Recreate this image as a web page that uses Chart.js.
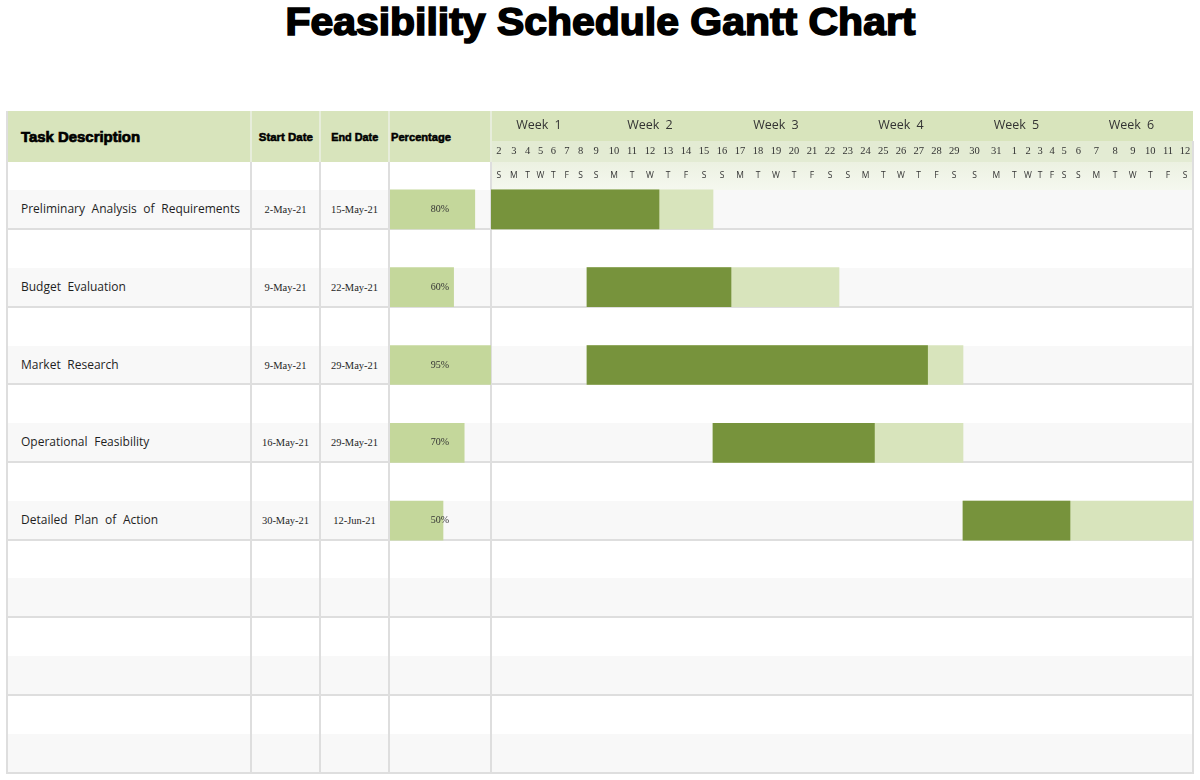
<!DOCTYPE html>
<html>
<head>
<meta charset="utf-8">
<title>Feasibility Schedule Gantt Chart</title>
<script src="https://cdn.jsdelivr.net/npm/chart.js@4.4.1/dist/chart.umd.min.js"></script>
<style>
  html, body { margin:0; padding:0; background:#fff; }
  body { width:1200px; height:780px; position:relative; overflow:hidden;
         font-family:"Open Sans","Noto Sans",sans-serif; color:#262626; }
  .rect { position:absolute; box-sizing:border-box; }
  .heavy { font-family:"Liberation Sans",Arial,sans-serif; font-weight:700; color:#000;
           white-space:nowrap; display:inline-block; }
  .cell { position:absolute; display:flex; align-items:center; white-space:nowrap; box-sizing:border-box; }
  .wrap { position:absolute; }
  #title { position:absolute; left:0; top:-2px; width:1200px; text-align:center;
           line-height:44px; font-size:38px; }
  #title span { -webkit-text-stroke:1.6px #000; transform-origin:50% 50%; }
</style>
</head>
<body>
<div id="title"><span class="heavy" id="titleText">Feasibility Schedule Gantt Chart</span></div>
<div id="table"></div>
<div class="wrap" id="pctWrap"><canvas id="pctChart"></canvas></div>
<div class="wrap" id="ganttWrap"><canvas id="ganttChart"></canvas></div>
<script>
// ================= DATA =================
const tasks = [
  'Preliminary Analysis of Requirements',
  'Budget Evaluation',
  'Market Research',
  'Operational Feasibility',
  'Detailed Plan of Action'
];
const startDates = ['2-May-21', '9-May-21', '9-May-21', '16-May-21', '30-May-21'];
const endDates   = ['15-May-21', '22-May-21', '29-May-21', '29-May-21', '12-Jun-21'];
const percentComplete = [80, 60, 95, 70, 50];
const timelineStart = '2-May-21';
const weekLabels = ['Week 1', 'Week 2', 'Week 3', 'Week 4', 'Week 5', 'Week 6'];
const dayNumbers = ['2','3','4','5','6','7','8','9','10','11','12','13','14','15','16','17','18','19','20','21','22',
                    '23','24','25','26','27','28','29','30','31','1','2','3','4','5','6','7','8','9','10','11','12'];
const dayLetters = ['S','M','T','W','T','F','S','S','M','T','W','T','F','S','S','M','T','W','T','F','S',
                    'S','M','T','W','T','F','S','S','M','T','W','T','F','S','S','M','T','W','T','F','S'];
const headerLabels = ['Task Description', 'Start Date', 'End Date', 'Percentage'];

// ================= LAYOUT (positions / sizes / styles) =================
const COLS = [7, 251, 320, 389, 491, 1193];
const TABLE_TOP = 111, HEAD_BOTTOM = 162, TABLE_BOTTOM = 773;
const WEEK_ROW_BOTTOM = 141, LETTER_ROW_BOTTOM = 190;
const GROUP_LINES = [229, 307, 384, 462, 540, 617, 695, 773];
const STRIPE_TOPS = [190, 268, 346, 423, 501, 578, 656, 734];
const BAR_AREA_TOP = 170.5, BAR_AREA_BOTTOM = 559.5;
// spreadsheet day-column widths (pixels), one per day of the timeline
const DAY_COL_WIDTHS = [15.5,14.5,13,13,12.5,14.5,13,
  18,18,18,18,18,18,18,
  18,18,18,18,18,18,18,
  17.714,17.714,17.714,17.714,17.714,17.714,17.716,
  23,20.5,15.5,12,12,12,12,
  16.5,19.5,18,17.5,17.5,18,16];
const PCT_LEFT = 390, PCT_WIDTH = 106;
const HEADER_TEXT_Y = { week: 125, day: 151, letter: 176 };
const C = {
  header: '#d8e4bc', dayRow: '#e3ebd3', letterTop: '#ecf1e1', letterBottom: '#f5f8ef',
  stripe: '#f8f8f8', line: '#dedede', headLine: '#e7eddb',
  done: '#77933c', remain: '#d8e4bc', pct: '#c4d79b', text: '#262626'
};

// ================= helpers =================
const MONTHS = {Jan:0,Feb:1,Mar:2,Apr:3,May:4,Jun:5,Jul:6,Aug:7,Sep:8,Oct:9,Nov:10,Dec:11};
function dayNum(s) { const p = s.split('-'); return Date.UTC(2000 + Number(p[2]), MONTHS[p[1]], Number(p[0])) / 86400000; }
const t0 = dayNum(timelineStart);
const startIdx = startDates.map(s => dayNum(s) - t0);
const endIdx = endDates.map(s => dayNum(s) - t0 + 1);
const doneIdx = startIdx.map((s, i) => s + Math.floor(percentComplete[i] / 100 * (endIdx[i] - s) + 1e-9));

// ================= table (HTML) =================
const table = document.getElementById('table');
function rect(x, y, w, h, bg) {
  const d = document.createElement('div');
  d.className = 'rect';
  d.style.cssText = `left:${x}px;top:${y}px;width:${w}px;height:${h}px;background:${bg};`;
  table.appendChild(d); return d;
}
function cell(x, y, w, h, text, css) {
  const d = document.createElement('div');
  d.className = 'cell';
  d.style.cssText = `left:${x}px;top:${y}px;width:${w}px;height:${h}px;` + (css || '');
  const s = document.createElement('span');
  s.textContent = text;
  d.appendChild(s);
  table.appendChild(d); return s;
}
const W = COLS[5] - COLS[0];
// header backgrounds
rect(COLS[0], TABLE_TOP, COLS[4] - COLS[0], HEAD_BOTTOM - TABLE_TOP, C.header);
rect(COLS[4], TABLE_TOP, COLS[5] - COLS[4], WEEK_ROW_BOTTOM - TABLE_TOP, C.header);
rect(COLS[4], WEEK_ROW_BOTTOM, COLS[5] - COLS[4], HEAD_BOTTOM - WEEK_ROW_BOTTOM, C.dayRow);
rect(COLS[4], HEAD_BOTTOM, COLS[5] - COLS[4], LETTER_ROW_BOTTOM - HEAD_BOTTOM,
     `linear-gradient(${C.letterTop}, ${C.letterBottom})`);
// stripes
STRIPE_TOPS.forEach((t, i) => rect(COLS[0], t, W, GROUP_LINES[i] - t, C.stripe));
// horizontal lines
GROUP_LINES.forEach(y => rect(COLS[0], y - 1, W + 1, 2, C.line));
// vertical lines
COLS.forEach((x, i) => {
  if (i === 0) rect(x - 1, TABLE_TOP, 2, TABLE_BOTTOM - TABLE_TOP + 1, C.line);
  else if (i === 5) rect(x - 1, WEEK_ROW_BOTTOM, 2, TABLE_BOTTOM - WEEK_ROW_BOTTOM + 1, C.line);
  else {
    rect(x - 1, TABLE_TOP, 2, HEAD_BOTTOM - TABLE_TOP, C.headLine);
    rect(x - 1, HEAD_BOTTOM, 2, TABLE_BOTTOM - HEAD_BOTTOM + 1, C.line);
  }
});
// header text
const hTask = cell(21, TABLE_TOP, 200, HEAD_BOTTOM - TABLE_TOP, headerLabels[0]);
hTask.className = 'heavy'; hTask.style.cssText = 'font-size:14px;-webkit-text-stroke:0.7px #000;transform-origin:0 50%;';
const hStart = cell(COLS[1], TABLE_TOP, COLS[2] - COLS[1], HEAD_BOTTOM - TABLE_TOP, headerLabels[1], 'justify-content:center;');
const hEnd = cell(COLS[2], TABLE_TOP, COLS[3] - COLS[2], HEAD_BOTTOM - TABLE_TOP, headerLabels[2], 'justify-content:center;');
const hPct = cell(391, TABLE_TOP, 90, HEAD_BOTTOM - TABLE_TOP, headerLabels[3]);
[hStart, hEnd, hPct].forEach(s => { s.className = 'heavy'; s.style.cssText = 'font-size:10.5px;-webkit-text-stroke:0.5px #000;'; });
hPct.style.transformOrigin = '0 50%';
function fit(el, target) {
  const w = el.getBoundingClientRect().width;
  if (w > 0) el.style.transform = `scaleX(${(target / w).toFixed(4)})`;
}
fit(hTask, 119); fit(hStart, 54); fit(hEnd, 47); fit(hPct, 60);
fit(document.getElementById('titleText'), 630);

// task rows text
tasks.forEach((t, i) => {
  const top = STRIPE_TOPS[i], h = GROUP_LINES[i] - top;
  cell(21, top - 1, COLS[1] - 21, h, t, 'font-size:12px;word-spacing:3.5px;color:#1f1f1f;');
  cell(COLS[1], top, COLS[2] - COLS[1], h, startDates[i],
       'justify-content:center;font-family:"Liberation Serif",serif;font-size:10.5px;color:#1f1f1f;');
  cell(COLS[2], top, COLS[3] - COLS[2], h, endDates[i],
       'justify-content:center;font-family:"Liberation Serif",serif;font-size:10.5px;color:#1f1f1f;');
});

// ================= Charts =================
const LinearScale = Chart.LinearScale || Chart.registry.getScale('linear');
const DAY_COL_CUM = DAY_COL_WIDTHS.reduce((a, w) => { a.push(a[a.length - 1] + w); return a; }, [0]);
class DayColumnScale extends LinearScale {
  getPixelForValue(value) {
    const n = DAY_COL_CUM.length - 1;
    const v = Math.max(0, Math.min(n, value - this.min));
    const i = Math.min(Math.floor(v), n - 1);
    const px = DAY_COL_CUM[i] + (v - i) * (DAY_COL_CUM[i + 1] - DAY_COL_CUM[i]);
    return this.left + px / DAY_COL_CUM[n] * this.width;
  }
  getValueForPixel(pixel) {
    const n = DAY_COL_CUM.length - 1;
    const px = (pixel - this.left) / this.width * DAY_COL_CUM[n];
    let i = 0;
    while (i < n - 1 && DAY_COL_CUM[i + 1] < px) i++;
    return this.min + i + (px - DAY_COL_CUM[i]) / (DAY_COL_CUM[i + 1] - DAY_COL_CUM[i]);
  }
}
DayColumnScale.id = 'dayColumn';
Chart.register(DayColumnScale);

function placeWrap(id, left, width) {
  const el = document.getElementById(id);
  el.style.left = left + 'px'; el.style.top = TABLE_TOP + 'px';
  el.style.width = width + 'px'; el.style.height = (TABLE_BOTTOM - TABLE_TOP) + 'px';
}
placeWrap('ganttWrap', COLS[4], COLS[5] - COLS[4]);
placeWrap('pctWrap', PCT_LEFT, PCT_WIDTH);

const padding = { top: BAR_AREA_TOP - TABLE_TOP, bottom: TABLE_BOTTOM - BAR_AREA_BOTTOM, left: 0, right: 0 };

const timelineHeader = {
  id: 'timelineHeader',
  afterDraw(chart) {
    const x = chart.scales.x, ctx = chart.ctx;
    ctx.save();
    ctx.fillStyle = '#333';
    ctx.textAlign = 'center';
    ctx.textBaseline = 'middle';
    ctx.font = '12.5px "Open Sans"';
    if ('wordSpacing' in ctx) ctx.wordSpacing = '3px';
    weekLabels.forEach((w, k) => {
      const cx = (x.getPixelForValue(k * 7) + x.getPixelForValue(Math.min(k * 7 + 7, dayNumbers.length))) / 2;
      ctx.fillText(w, cx, HEADER_TEXT_Y.week - TABLE_TOP);
    });
    if ('wordSpacing' in ctx) ctx.wordSpacing = '0px';
    ctx.font = '10.5px "Liberation Serif"';
    dayNumbers.forEach((d, k) => ctx.fillText(d, x.getPixelForValue(k + 0.5), HEADER_TEXT_Y.day - TABLE_TOP));
    ctx.font = '8.5px "Open Sans"';
    dayLetters.forEach((d, k) => ctx.fillText(d, x.getPixelForValue(k + 0.5), HEADER_TEXT_Y.letter - TABLE_TOP));
    ctx.restore();
  }
};

new Chart(document.getElementById('ganttChart'), {
  type: 'bar',
  data: {
    labels: tasks,
    datasets: [
      { label: 'Completed', data: startIdx.map((s, i) => [s, doneIdx[i]]),
        backgroundColor: C.done, borderWidth: 0, barThickness: 39, grouped: false },
      { label: 'Planned', data: startIdx.map((s, i) => [s, endIdx[i]]),
        backgroundColor: C.remain, borderWidth: 0, barThickness: 39, grouped: false }
    ]
  },
  options: {
    indexAxis: 'y', responsive: true, maintainAspectRatio: false, animation: false,
    layout: { padding },
    scales: {
      x: { type: 'dayColumn', min: 0, max: dayNumbers.length, display: false },
      y: { type: 'category', display: false, offset: true }
    },
    plugins: { legend: { display: false }, tooltip: { enabled: false } }
  },
  plugins: [timelineHeader]
});

const pctLabels = {
  id: 'pctLabels',
  afterDatasetsDraw(chart) {
    const y = chart.scales.y, ctx = chart.ctx;
    const cx = (COLS[3] + COLS[4]) / 2 - PCT_LEFT;
    ctx.save();
    ctx.fillStyle = '#333';
    ctx.font = '10px "Liberation Serif"';
    ctx.textAlign = 'center';
    ctx.textBaseline = 'middle';
    percentComplete.forEach((p, i) => ctx.fillText(p + '%', cx, y.getPixelForValue(i)));
    ctx.restore();
  }
};

new Chart(document.getElementById('pctChart'), {
  type: 'bar',
  data: {
    labels: tasks,
    datasets: [{ label: 'Percentage', data: percentComplete, backgroundColor: C.pct,
                 borderWidth: 0, barThickness: 39 }]
  },
  options: {
    indexAxis: 'y', responsive: true, maintainAspectRatio: false, animation: false,
    layout: { padding },
    scales: {
      x: { type: 'linear', min: 0, max: 100, display: false },
      y: { type: 'category', display: false, offset: true }
    },
    plugins: { legend: { display: false }, tooltip: { enabled: false } }
  },
  plugins: [pctLabels]
});
</script>
</body>
</html>
